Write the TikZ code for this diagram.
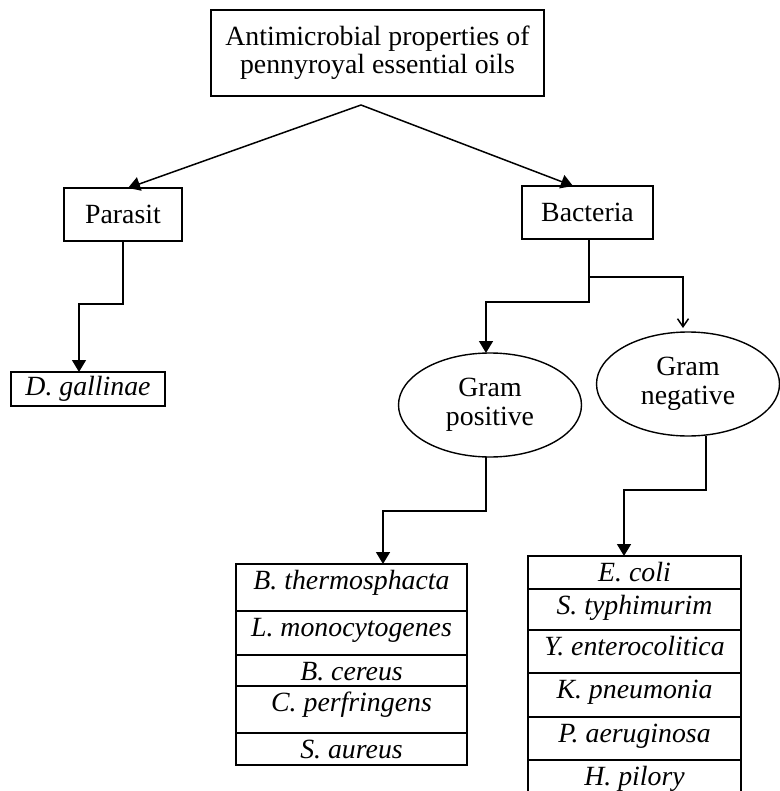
\documentclass[tikz,border=0pt]{standalone}
\usepackage{fontspec}
\setmainfont{Liberation Serif}
\usetikzlibrary{positioning, arrows.meta, shapes.geometric}

\begin{document}
\begin{tikzpicture}[
  x=1pt, y=1pt,
  box/.style={
    rectangle, draw, line width=1.4pt, inner sep=0pt, outer sep=0pt,
    align=center, font=\fontsize{27.8}{28}\selectfont
  },
  oval/.style={
    ellipse, draw, line width=1.4pt, inner sep=0pt, outer sep=0pt,
    minimum width=183pt, minimum height=104pt,
    align=center, font=\fontsize{27.8}{29}\selectfont
  },
  cell/.style={
    rectangle, draw, line width=1.4pt, inner ysep=0pt, outer sep=0pt,
    text height=25pt, text depth=#1, font=\fontsize{27.8}{28}\selectfont\itshape
  },
  arr/.style={-{Triangle[length=12pt, width=14pt]}, line width=1.5pt},
  arropen/.style={-{Straight Barb[length=8pt, width=11pt]}, line width=1.5pt},
]
\useasboundingbox (0,0) rectangle (779,-791);

% Top of the tree
\node[box, minimum width=333pt, minimum height=86pt] (title) at (377.5,-53)
  {Antimicrobial properties of\\pennyroyal essential oils};
\node[box, minimum width=118pt, minimum height=53pt, below=92pt of title, xshift=-254.5pt] (parasit) {Parasit};
\node[box, minimum width=131pt, minimum height=53pt, below=90pt of title, xshift=210pt] (bacteria) {Bacteria};
\node[box, minimum width=154pt, minimum height=34pt, font=\fontsize{27.8}{28}\selectfont\itshape,
  below=131pt of parasit, xshift=-35pt] (dgal) {D. gallinae};

% Gram groups
\node[oval, below=114pt of bacteria, xshift=-97.5pt] (grampos) {Gram\\positive};
\node[oval, below=93pt of bacteria, xshift=100.5pt] (gramneg) {Gram\\negative};

% Gram positive list
\node[cell=22pt, minimum width=231pt, below=107pt of grampos, xshift=-138.5pt] (bthermo) {B. thermosphacta};
\node[cell=19pt, minimum width=231pt, below=0pt of bthermo] (lmono) {L. monocytogenes};
\node[cell=6pt, minimum width=231pt, below=0pt of lmono] (bcereus) {B. cereus};
\node[cell=22pt, minimum width=231pt, below=0pt of bcereus] (cperf) {C. perfringens};
\node[cell=7pt, minimum width=231pt, below=0pt of cperf] (saureus) {S. aureus};

% Gram negative list
\node[cell=8pt, minimum width=213pt, below=120pt of gramneg, xshift=-53.5pt] (ecoli) {E. coli};
\node[cell=16pt, minimum width=213pt, below=0pt of ecoli] (styphi) {S. typhimurim};
\node[cell=18pt, minimum width=213pt, below=0pt of styphi] (yentero) {Y. enterocolitica};
\node[cell=19pt, minimum width=213pt, below=0pt of yentero] (kpneu) {K. pneumonia};
\node[cell=18pt, minimum width=213pt, below=0pt of kpneu] (paeru) {P. aeruginosa};
\node[cell=19pt, minimum width=213pt, below=0pt of paeru] (hpylo) {H. pilory};

% Arrows
\coordinate[below=9pt of title, xshift=-16.5pt] (fork);
\draw[arr] (fork) -- ([xshift=5pt]parasit.north);
\draw[arr] (fork) -- ([xshift=-14.5pt]bacteria.north);
\draw[arr] (parasit.south) -- ++(0,-63) -| ([xshift=-9pt]dgal.north);
\draw[arr] ([xshift=1.5pt]bacteria.south) -- ++(0,-63) -| ([xshift=-4pt]grampos.north);
\draw[arropen] ([xshift=1.5pt]bacteria.south) -- ++(0,-38) -| ([xshift=-5pt, yshift=4pt]gramneg.north);
\draw[arr] ([xshift=-4pt]grampos.south) -- ++(0,-54) -| ([xshift=31.5pt]bthermo.north);
\draw[arr] ([xshift=18pt]gramneg.south) -- ++(0,-54) -| ([xshift=-10.5pt]ecoli.north);
\end{tikzpicture}
\end{document}
